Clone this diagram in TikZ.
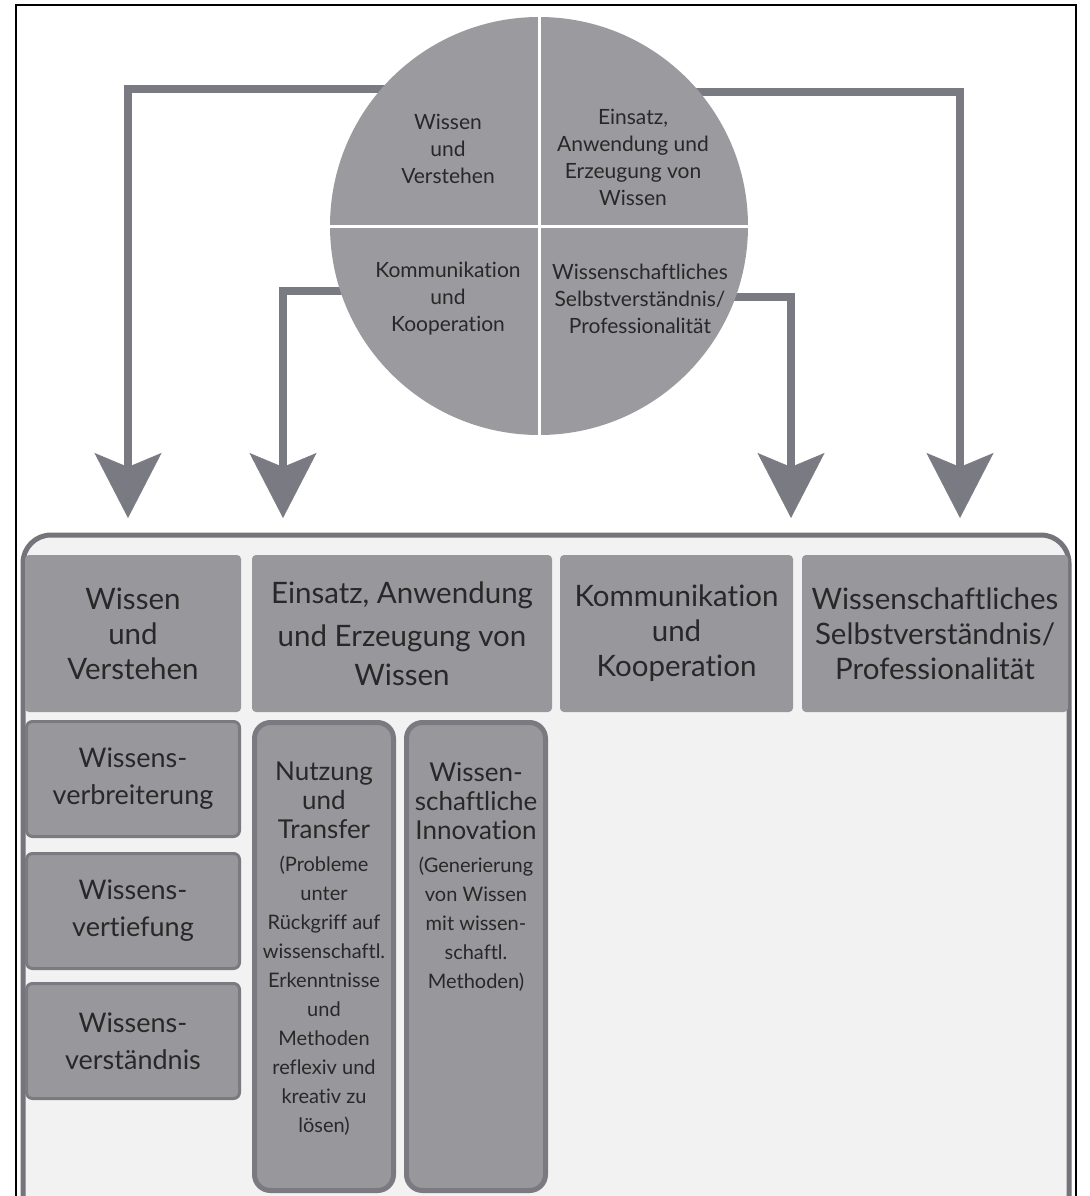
\documentclass[tikz,border=0pt]{standalone}
\usepackage{fontspec}
\setmainfont{Lato}[Ligatures=NoCommon]
\usetikzlibrary{arrows.meta}
\definecolor{boxc}{RGB}{152,152,156}
\definecolor{circc}{RGB}{155,155,159}
\definecolor{arrowc}{RGB}{122,122,130}
\definecolor{contc}{RGB}{116,116,122}
\definecolor{contfill}{RGB}{242,242,242}
\definecolor{bordc}{RGB}{122,122,128}
\definecolor{txt}{RGB}{40,40,40}
\pgfdeclarelayer{bg}
\pgfsetlayers{bg,main}
\newcommand\BigLine[1]{{\fontsize{26}{29}\selectfont #1}}
\begin{document}
\begin{tikzpicture}[x=1pt,y=-1pt,
  arr/.style={draw=arrowc, line width=8pt, -{Stealth[length=65pt,width=67pt,inset=14pt,line width=0.5pt]}},
  hbox/.style={fill=boxc, rounded corners=4pt, inner sep=0pt, align=center, text=txt, minimum height=157pt, font=\fontsize{29.5}{35}\selectfont},
  lbox/.style={fill=boxc, draw=bordc, line width=3pt, rounded corners=6pt, inner sep=0pt, align=center, text=txt, minimum width=213pt, minimum height=115pt, font=\fontsize{27}{37}\selectfont},
  tbox/.style={fill=boxc, draw=bordc, line width=5pt, rounded corners=16pt, minimum width=139pt, minimum height=468pt, inner sep=0pt},
  qtext/.style={align=center, text=txt, font=\fontsize{21}{27}\selectfont, inner sep=0pt},
  ttext/.style={align=center, text=txt, font=\fontsize{20}{29}\selectfont, inner sep=0pt, anchor=north}]
\useasboundingbox (0,0) rectangle (1089,1196);
\clip (0,0) rectangle (1089,1196);
\begin{pgfonlayer}{bg}
\fill[white] (0,0) rectangle (1089,1196);
\end{pgfonlayer}

% outer frame
\draw[black, line width=2.5pt] (16,1300) -- (16,5) -- (1076,5) -- (1076,1300);

% container
\draw[draw=contc, line width=5pt, fill=contfill, rounded corners=28pt]
  (23,1260) -- (23,535) -- (1069,535) -- (1069,1260);

% circle
\node[circle, fill=circc, minimum size=418pt, inner sep=0pt, outer sep=0pt] (c) at (539,226) {};
\draw[white, line width=3pt] (c.north) -- (c.south);
\draw[white, line width=3pt] (c.west) -- (c.east);
\node[qtext] (q1) at (448,149) {Wissen\\und\\Verstehen};
\node[qtext] (q2) at (633,157) {Einsatz,\\Anwendung und\\Erzeugung von\\Wissen};
\node[qtext] (q3) at (448,299) {Kommunikation\\und\\Kooperation};
\node[qtext] (q4) at (640,299) {Wissenschaftliches\\Selbstverständnis/\\Professionalität};

% arrow targets
\coordinate (t1) at (128,518);
\coordinate (t2) at (283,518);
\coordinate (t3) at (791,518);
\coordinate (t4) at (960,518);
\begin{pgfonlayer}{bg}
\draw[arr] ([xshift=10pt]c.139.4) -| (t1);
\draw[arr] ([xshift=10pt]c.198.7) -| (t2);
\draw[arr] ([xshift=-10pt]c.340.7) -| (t3);
\draw[arr] ([xshift=-10pt]c.40.1) -| (t4);
\end{pgfonlayer}

% header row
\node[hbox, minimum width=216pt] (h1) at (133,633.5) {Wissen\\und\\Verstehen};
\node[hbox, minimum width=300pt] (h2) at (402,633.5) {Einsatz, Anwendung\\[8pt]und Erzeugung von\\[4pt]Wissen};
\node[hbox, minimum width=233pt] (h3) at (676.5,633.5) {Kommunikation\\und\\Kooperation};
\node[hbox, minimum width=266pt] (h4) at (935,633.5) {Wissenschaftliches\\Selbstverständnis/\\Professionalität};

% left column
\node[lbox] (l1) at (133,779) {Wissens-\\verbreiterung};
\node[lbox] (l2) at (133,911) {Wissens-\\vertiefung};
\node[lbox] (l3) at (133,1041) {Wissens-\\verständnis};

% tall boxes
\node[tbox] (b1) at (324,956.5) {};
\node[tbox] (b2) at (476,956.5) {};
\node[ttext] (n1) at (324,762) {\BigLine{Nutzung}\\\BigLine{und}\\\BigLine{Transfer}\\[4pt](Probleme\\unter\\Rückgriff auf\\wissenschaftl.\\Erkenntnisse\\und\\Methoden\\reflexiv und\\kreativ zu\\lösen)};
\node[ttext] (n2) at (476,762) {\BigLine{Wissen-}\\\BigLine{schaftliche}\\\BigLine{Innovation}\\[4pt](Generierung\\von Wissen\\mit wissen-\\schaftl.\\Methoden)};
\end{tikzpicture}
\end{document}
